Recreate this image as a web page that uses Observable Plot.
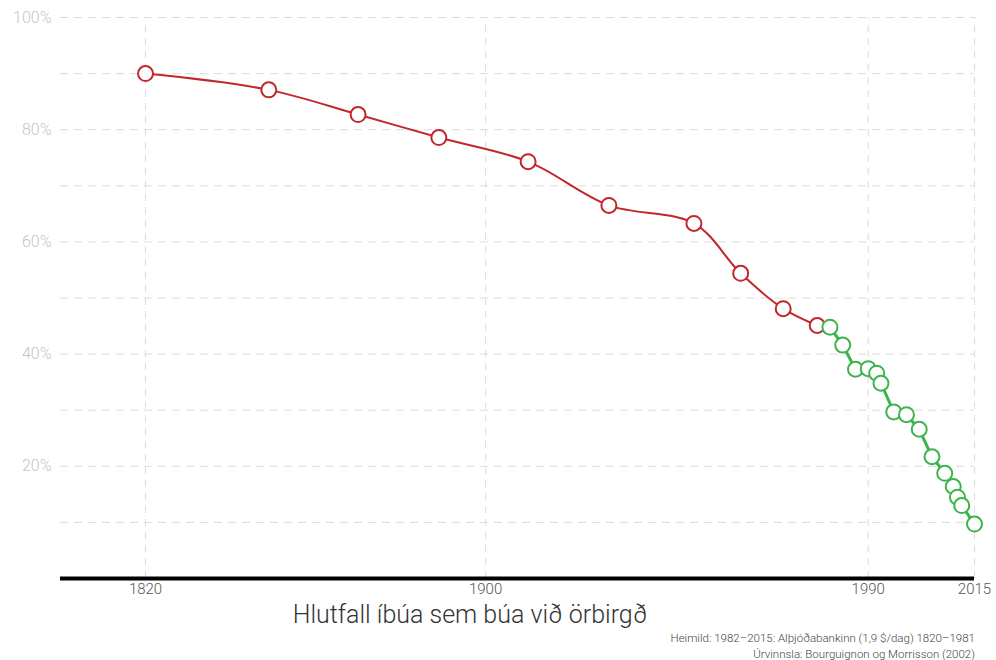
<!DOCTYPE html>
<html>
<head>
<meta charset="utf-8">
<script src="https://cdn.jsdelivr.net/npm/d3@7"></script>
<script src="https://cdn.jsdelivr.net/npm/@observablehq/plot@0.6"></script>
<style>
  html, body { margin: 0; padding: 0; background: #fff; }
  #wrap { position: relative; width: 996px; height: 660px; font-family: "Roboto", "Liberation Sans", sans-serif; font-weight: 300; }
  #title { position: absolute; left: 0; width: 940px; top: 603px; line-height: 24px; text-align: center; font-size: 25px; color: #333; font-weight: 300; }
  #caption { position: absolute; right: 21px; top: 630px; text-align: right; font-size: 11.5px; line-height: 16px; color: #444; }
</style>
</head>
<body>
<div id="wrap">
  <div id="chart"></div>
  <div id="title">Hlutfall íbúa sem búa við örbirgð</div>
  <div id="caption">Heimild: 1982–2015: Alþjóðabankinn (1,9 $/dag) 1820–1981<br>Úrvinnsla: Bourguignon og Morrisson (2002)</div>
</div>
<script>
// Bourguignon & Morrisson series (red)
const bmYears  = [1820, 1849, 1870, 1889, 1910, 1929, 1949, 1960, 1970, 1978];
const bmValues = [90.0, 87.1, 82.7, 78.6, 74.3, 66.5, 63.3, 54.4, 48.1, 45.1];
// World Bank series (green)
const wbYears  = [1981, 1984, 1987, 1990, 1992, 1993, 1996, 1999, 2002, 2005, 2008, 2010, 2011, 2012, 2015];
const wbValues = [44.8, 41.6, 37.3, 37.4, 36.6, 34.8, 29.7, 29.2, 26.6, 21.7, 18.75, 16.4, 14.5, 13.0, 9.7];
// axis ticks
const xTicks = [1820, 1900, 1990, 2015];
const yLabelTicks = [0.2, 0.4, 0.6, 0.8, 1.0];
const yGrid = [0.1, 0.2, 0.3, 0.4, 0.5, 0.6, 0.7, 0.8, 0.9, 1.0];

const bm = bmYears.map((y, i) => ({year: y, value: bmValues[i] / 100}));
const wb = wbYears.map((y, i) => ({year: y, value: wbValues[i] / 100}));

const RED = "#c1272d";
const GREEN = "#3cb44b";

const chart = Plot.plot({
  width: 996,
  height: 600,
  marginLeft: 60,
  marginRight: 22,
  marginTop: 17,
  marginBottom: 22,
  style: {fontFamily: "Roboto, 'Liberation Sans', sans-serif", fontWeight: 300, background: "white"},
  x: {domain: [1800, 2015]},
  y: {domain: [0, 1]},
  marks: [
    Plot.ruleY(yGrid, {stroke: "#dcdcdc", strokeWidth: 1, strokeDasharray: "8,6"}),
    Plot.ruleX(xTicks, {y1: 0, y2: 1, stroke: "#dcdcdc", strokeWidth: 1, strokeDasharray: "7,6"}),
    Plot.axisY({ticks: yLabelTicks, tickSize: 0, tickPadding: 9, tickFormat: d => Math.round(d * 100) + "%", fontSize: 16, fill: "#c4c4c4", label: null}),
    Plot.axisX({ticks: xTicks, tickSize: 0, tickPadding: 5, tickFormat: d => String(d), fontSize: 15, fill: "#555", label: null}),
    Plot.ruleY([0], {stroke: "black", strokeWidth: 4}),
    Plot.line(bm, {x: "year", y: "value", curve: "catmull-rom", stroke: RED, strokeWidth: 2}),
    Plot.dot(bm, {x: "year", y: "value", r: 7.5, fill: "white", stroke: RED, strokeWidth: 2}),
    Plot.line(wb, {x: "year", y: "value", stroke: GREEN, strokeWidth: 3}),
    Plot.dot(wb, {x: "year", y: "value", r: 7.5, fill: "white", stroke: GREEN, strokeWidth: 2})
  ]
});
document.getElementById("chart").appendChild(chart);
</script>
</body>
</html>
